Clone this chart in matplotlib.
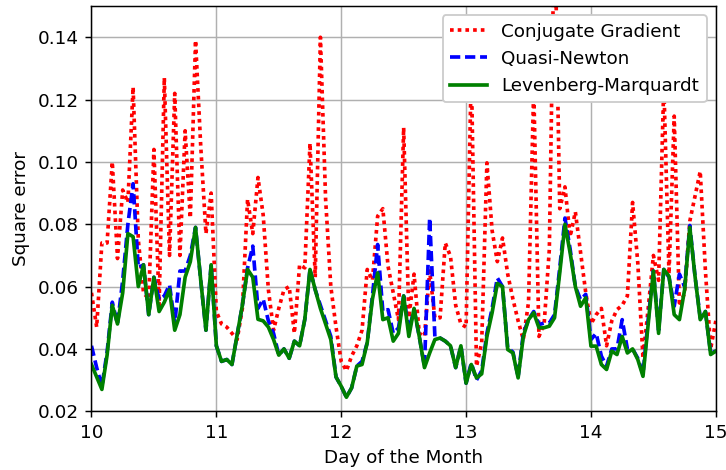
import numpy as np
import matplotlib
matplotlib.use("Agg")
import matplotlib.pyplot as plt

# hourly samples from day 10 00:00 to day 15 00:00
hours = np.arange(121)
day = 10 + hours / 24.0

# square error per hour, one row per half day
cg_err = [
    0.058, 0.047, 0.074, 0.074, 0.100, 0.069, 0.091, 0.087, 0.124, 0.075, 0.058, 0.056,
    0.104, 0.054, 0.127, 0.070, 0.122, 0.070, 0.110, 0.082, 0.139, 0.105, 0.077, 0.090,
    0.052, 0.048, 0.047, 0.045, 0.043, 0.053, 0.088, 0.077, 0.095, 0.083, 0.059, 0.046,
    0.053, 0.059, 0.060, 0.045, 0.067, 0.066, 0.106, 0.063, 0.140, 0.088, 0.060, 0.047,
    0.036, 0.033, 0.0377, 0.041, 0.046, 0.0655, 0.062, 0.0826, 0.085, 0.0665, 0.058, 0.0494,
    0.111, 0.050, 0.064, 0.045, 0.044, 0.065, 0.050, 0.050, 0.074, 0.0697, 0.054, 0.048,
    0.047, 0.130, 0.0344, 0.042, 0.0997, 0.078, 0.068, 0.0756, 0.064, 0.056, 0.049, 0.043,
    0.055, 0.124, 0.044, 0.048, 0.072, 0.180, 0.085, 0.092, 0.076, 0.084, 0.071, 0.058,
    0.048, 0.051, 0.053, 0.041, 0.049, 0.0526, 0.054, 0.057, 0.087, 0.0676, 0.037, 0.053,
    0.070, 0.062, 0.125, 0.064, 0.1147, 0.0537, 0.058, 0.081, 0.089, 0.097, 0.065, 0.040,
    0.049,
]
qn_err = [
    0.041, 0.034, 0.028, 0.039, 0.055, 0.048, 0.062, 0.080, 0.093, 0.066, 0.067, 0.051,
    0.063, 0.0558, 0.057, 0.0606, 0.048, 0.065, 0.065, 0.070, 0.079, 0.062, 0.046, 0.067,
    0.041, 0.036, 0.0366, 0.035, 0.0445, 0.054, 0.066, 0.073, 0.053, 0.056, 0.049, 0.045,
    0.038, 0.040, 0.037, 0.0425, 0.041, 0.0495, 0.0655, 0.059, 0.054, 0.049, 0.044, 0.031,
    0.028, 0.0245, 0.0275, 0.0345, 0.036, 0.042, 0.057, 0.0735, 0.052, 0.0526, 0.045, 0.0467,
    0.057, 0.046, 0.0526, 0.044, 0.0344, 0.082, 0.044, 0.0435, 0.0425, 0.041, 0.034, 0.041,
    0.029, 0.0355, 0.030, 0.033, 0.045, 0.053, 0.0628, 0.060, 0.0403, 0.039, 0.031, 0.045,
    0.0494, 0.052, 0.0478, 0.0483, 0.0483, 0.051, 0.066, 0.082, 0.072, 0.060, 0.0558, 0.0575,
    0.043, 0.045, 0.0377, 0.0345, 0.040, 0.040, 0.0494, 0.040, 0.040, 0.037, 0.032, 0.0494,
    0.065, 0.046, 0.0655, 0.063, 0.0537, 0.064, 0.060, 0.0796, 0.0633, 0.050, 0.052, 0.0387,
    0.0393,
]
lm_err = [
    0.035, 0.031, 0.027, 0.038, 0.054, 0.048, 0.058, 0.077, 0.076, 0.060, 0.067, 0.051,
    0.063, 0.052, 0.055, 0.059, 0.046, 0.051, 0.063, 0.068, 0.079, 0.062, 0.046, 0.067,
    0.041, 0.036, 0.0366, 0.035, 0.0445, 0.054, 0.0655, 0.063, 0.0495, 0.049, 0.047, 0.043,
    0.038, 0.040, 0.037, 0.0425, 0.041, 0.0495, 0.0655, 0.059, 0.053, 0.048, 0.043, 0.031,
    0.028, 0.0245, 0.0275, 0.0345, 0.035, 0.042, 0.056, 0.0644, 0.0494, 0.050, 0.0425, 0.045,
    0.057, 0.044, 0.053, 0.044, 0.034, 0.0387, 0.043, 0.0435, 0.0425, 0.041, 0.034, 0.041,
    0.029, 0.035, 0.0307, 0.032, 0.044, 0.0516, 0.061, 0.060, 0.0398, 0.0387, 0.0307, 0.044,
    0.0494, 0.0516, 0.0468, 0.0468, 0.0473, 0.050, 0.0644, 0.080, 0.0708, 0.060, 0.0537, 0.0564,
    0.0409, 0.0409, 0.035, 0.0334, 0.0393, 0.0382, 0.044, 0.0387, 0.040, 0.0366, 0.0312, 0.048,
    0.065, 0.045, 0.0655, 0.0633, 0.051, 0.0494, 0.059, 0.079, 0.0633, 0.0494, 0.052, 0.0382,
    0.0393,
]

fig = plt.figure(figsize=(726 / 132, 470 / 132), dpi=132)
ax = fig.add_subplot(111)
fig.subplots_adjust(left=0.126, right=0.986, bottom=0.125, top=0.987)

# thicker lines, but keep the dot/dash period short
ax.plot(day, cg_err, color='r', lw=2, linestyle=(0, (1.0, 1.1)), label='Conjugate Gradient')
ax.plot(day, qn_err, color='b', lw=2, linestyle=(0, (2.8, 1.3)), label='Quasi-Newton')
ax.plot(day, lm_err, color='g', lw=2, linestyle='-', label='Levenberg-Marquardt')

ax.set_xlim(10, 15)
ax.set_ylim(0.02, 0.15)
ax.set_xticks([10, 11, 12, 13, 14, 15])
ax.set_yticks(np.arange(0.02, 0.141, 0.02))
ax.grid(True)
ax.set_xlabel('Day of the Month')
ax.set_ylabel('Square error')
ax.legend(loc='upper right', framealpha=1)

fig.savefig('out.png', dpi=132)
